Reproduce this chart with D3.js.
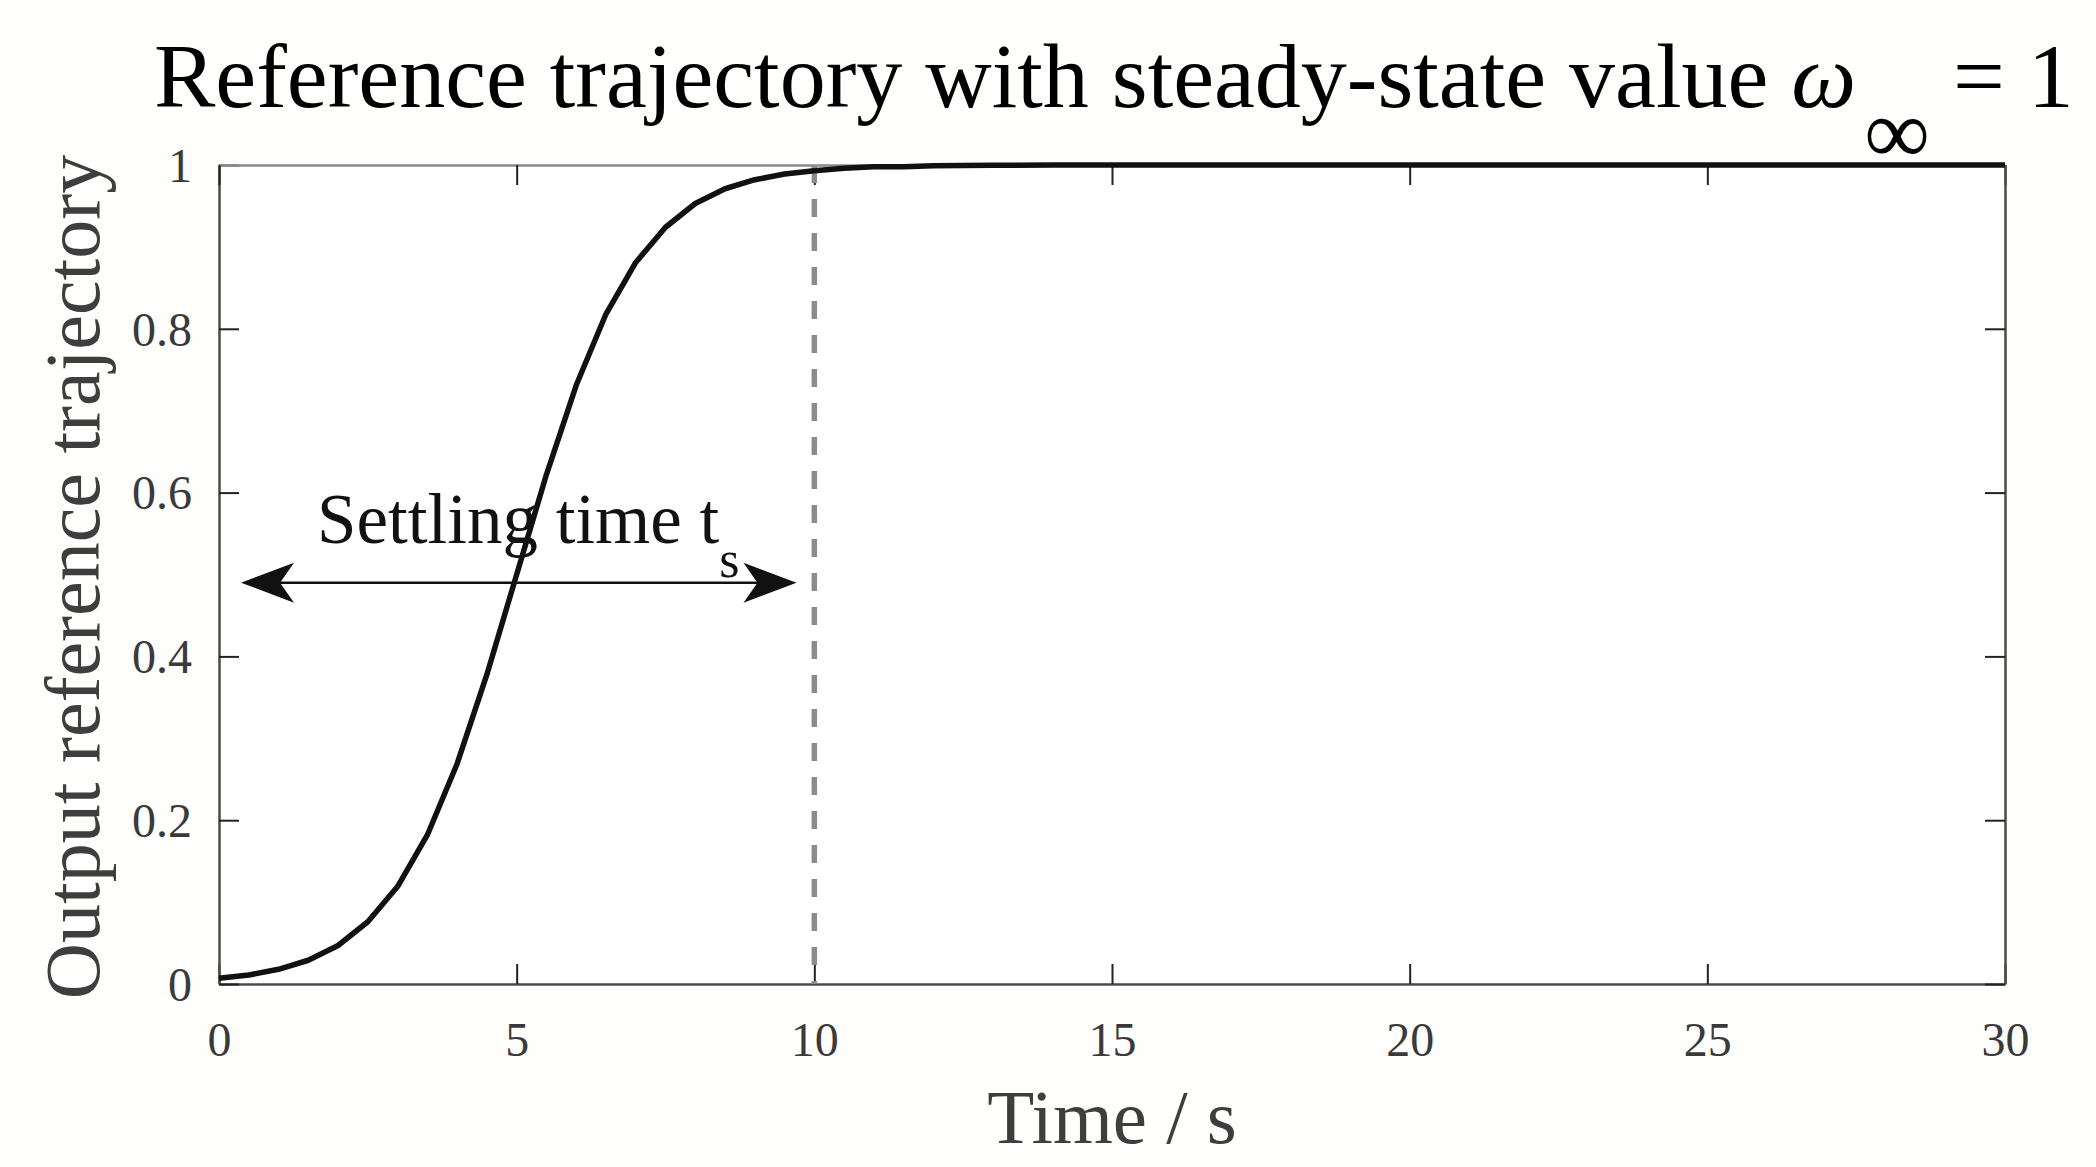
<!DOCTYPE html>
<html>
<head>
<meta charset="utf-8">
<script src="https://cdn.jsdelivr.net/npm/d3@7"></script>
<style>
  body { margin: 0; background: #fefefd; }
  svg { display: block; }
</style>
</head>
<body>
<div id="chart"></div>
<script>
// values
const timeValues = [0, 0.5, 1, 1.5, 2, 2.5, 3, 3.5, 4, 4.5, 5, 5.5, 6, 6.5, 7, 7.5, 8, 8.5, 9, 9.5, 10,
    10.5, 11, 11.5, 12, 13, 14, 15, 20, 25, 30];
const outputValues = [0.007, 0.011, 0.018, 0.029, 0.047, 0.076, 0.119, 0.182, 0.269, 0.378, 0.500,
    0.622, 0.731, 0.818, 0.881, 0.924, 0.953, 0.971, 0.982, 0.989, 0.993,
    0.996, 0.998, 0.998, 0.999, 0.9997, 0.9999, 1, 1, 1, 1];
const xTicks = [0, 5, 10, 15, 20, 25, 30];
const yTicks = [0, 0.2, 0.4, 0.6, 0.8, 1];
const yTickLabels = ["0", "0.2", "0.4", "0.6", "0.8", "1"];
const settlingTime = 10;
const arrowSpan = [0.37, 9.7];
const arrowLevel = 0.49;

const W = 2096, H = 1167;
const margin = { top: 165, right: 91, bottom: 183, left: 219 };
const width = W - margin.left - margin.right;
const height = H - margin.top - margin.bottom;
const font = "'Liberation Serif', 'Times New Roman', serif";
const axisColor = "#4a4a4a";

const root = d3.select("#chart")
    .append("svg")
    .attr("width", W)
    .attr("height", H)
    .style("background", "#fefefd");

const svg = root.append("g")
    .attr("transform", `translate(${margin.left},${margin.top})`);

const x = d3.scaleLinear().domain([0, 30]).range([0, width]);
const y = d3.scaleLinear().domain([0, 1]).range([height, 0]);

// plot background
svg.append("rect")
    .attr("width", width)
    .attr("height", height)
    .attr("fill", "#ffffff");

// axes, ticks pointing inward on all four sides
function styleAxis(g) {
    g.select(".domain").attr("stroke", axisColor).attr("stroke-width", 2.5);
    g.selectAll(".tick line").attr("stroke", "#222").attr("stroke-width", 2);
}

svg.append("g")
    .attr("transform", `translate(0,${height})`)
    .call(d3.axisBottom(x).tickValues(xTicks).tickSize(-20).tickSizeOuter(0).tickFormat(d3.format("d")))
    .call(styleAxis)
    .call(g => g.selectAll("text")
        .attr("y", 72)
        .attr("dy", 0)
        .attr("fill", "#3a3a3a")
        .style("font-family", font)
        .style("font-size", "48px"));

svg.append("g")
    .call(d3.axisLeft(y).tickValues(yTicks).tickSize(-20).tickSizeOuter(0).tickFormat((d, i) => yTickLabels[i]))
    .call(styleAxis)
    .call(g => g.selectAll("text")
        .attr("x", -27)
        .attr("dy", "0.34em")
        .attr("fill", "#3a3a3a")
        .style("font-family", font)
        .style("font-size", "48px"));

svg.append("g")
    .call(d3.axisTop(x).tickValues(xTicks).tickSize(-20).tickSizeOuter(0).tickFormat(""))
    .call(styleAxis)
    .call(g => g.select(".domain").attr("stroke", "#8a8a8a"));

svg.append("g")
    .attr("transform", `translate(${width},0)`)
    .call(d3.axisRight(y).tickValues(yTicks).tickSize(-20).tickSizeOuter(0).tickFormat(""))
    .call(styleAxis);

// settling time marker
svg.append("line")
    .attr("x1", x(settlingTime))
    .attr("x2", x(settlingTime))
    .attr("y1", y(1))
    .attr("y2", y(0))
    .attr("stroke", "#8c8c8c")
    .attr("stroke-width", 5.5)
    .attr("stroke-dasharray", "18,16");

// trajectory
const line = d3.line()
    .x((d, i) => x(timeValues[i]))
    .y(d => y(d));

svg.append("path")
    .datum(outputValues)
    .attr("fill", "none")
    .attr("stroke", "#111")
    .attr("stroke-width", 5.5)
    .attr("stroke-linejoin", "round")
    .attr("d", line);

// double arrow
const ay = y(arrowLevel);
const ax0 = x(arrowSpan[0]);
const ax1 = x(arrowSpan[1]);

svg.append("line")
    .attr("x1", ax0 + 30)
    .attr("x2", ax1 - 30)
    .attr("y1", ay)
    .attr("y2", ay)
    .attr("stroke", "#111")
    .attr("stroke-width", 2.5);

svg.append("path")
    .attr("d", `M${ax0},${ay} L${ax0 + 53},${ay - 20} L${ax0 + 39},${ay} L${ax0 + 53},${ay + 20} Z`)
    .attr("fill", "#111");

svg.append("path")
    .attr("d", `M${ax1},${ay} L${ax1 - 53},${ay - 20} L${ax1 - 39},${ay} L${ax1 - 53},${ay + 20} Z`)
    .attr("fill", "#111");

const st = svg.append("text")
    .attr("x", 98)
    .attr("y", 378)
    .attr("fill", "#111")
    .style("font-family", font)
    .style("font-size", "71px");
st.append("tspan").text("Settling time t");
st.append("tspan")
    .attr("dy", 34)
    .style("font-size", "52px")
    .text("s");

// title
const title = root.append("text")
    .attr("x", 154)
    .attr("y", 107)
    .attr("fill", "#000")
    .style("font-family", font)
    .style("font-size", "92px");
title.append("tspan").text("Reference trajectory with steady-state value ");
title.append("tspan").style("font-style", "italic").text("ω");
title.append("tspan").attr("dx", 8).attr("dy", 56).text("∞");
title.append("tspan").attr("dy", -56).text(" = 1");

// axis labels
root.append("text")
    .attr("x", margin.left + x(15))
    .attr("y", 1143)
    .attr("text-anchor", "middle")
    .attr("fill", "#3e3e3e")
    .style("font-family", font)
    .style("font-size", "77px")
    .text("Time / s");

root.append("text")
    .attr("transform", "translate(99,577) rotate(-90)")
    .attr("text-anchor", "middle")
    .attr("fill", "#3e3e3e")
    .style("font-family", font)
    .style("font-size", "78px")
    .text("Output reference trajectory");
</script>
</body>
</html>
